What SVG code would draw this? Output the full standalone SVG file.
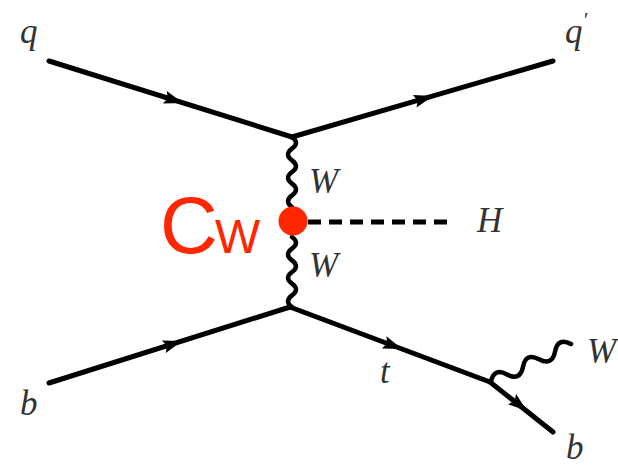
<svg xmlns="http://www.w3.org/2000/svg" xmlns:xlink="http://www.w3.org/1999/xlink" width="618" height="468" viewBox="0 0 618 468">
  <style>
    .line { stroke: #000; stroke-width: 5; fill: none; stroke-linecap: round; stroke-linejoin: round; }
    .wave { stroke: #000; stroke-width: 4.5; fill: none; stroke-linecap: round; }
    .dash { stroke: #000; stroke-width: 5; fill: none; stroke-dasharray: 13 8; }
    .lbl { font-family: "Liberation Serif", "DejaVu Serif", serif; font-style: italic; font-size: 35px; fill: #333; }
    .cw { font-family: "Liberation Sans", Arial, sans-serif; fill: #FF2600; }
  </style>
  <defs>
    <path id="arrow" d="M0,0 L-19,-6.5 L-16,0 L-19,6.5 Z" fill="#000"/>
  </defs>
  <rect width="618" height="468" fill="#fff"/>
  <g id="connectors">
    <line class="line" x1="49" y1="61" x2="292" y2="137"/>
    <line class="line" x1="292" y1="137" x2="553" y2="61"/>
    <line class="line" x1="49" y1="383" x2="290" y2="307"/>
    <line class="line" x1="290" y1="307" x2="490" y2="382"/>
    <line class="line" x1="490" y1="382" x2="553" y2="432"/>
    <path class="wave" d="M292,137 q8,5.83 0,11.67 t0,11.67 t0,11.67 t0,11.67 t0,11.67 t0,11.67"/>
    <path class="wave" d="M292,237 q8,5.83 0,11.67 t0,11.67 t0,11.67 t0,11.67 t0,11.67 t0,11.67"/>
    <path class="wave" transform="translate(491,382) rotate(-25.4)" d="M0,0 q8.86,-12 17.72,0 t17.72,0 t17.72,0 t17.72,0 t17.72,0"/>
    <line class="dash" x1="308" y1="222" x2="453" y2="222"/>
    <use xlink:href="#arrow" transform="translate(183,103) rotate(17.37)"/>
    <use xlink:href="#arrow" transform="translate(433,96) rotate(-16.23)"/>
    <use xlink:href="#arrow" transform="translate(182,341) rotate(-17.5)"/>
    <use xlink:href="#arrow" transform="translate(402,349) rotate(20.56)"/>
    <use xlink:href="#arrow" transform="translate(527,411) rotate(38.4)"/>
  </g>
  <g id="vertex-cw">
    <circle cx="293" cy="221" r="14.5" fill="#FF2600"/>
  </g>
  <g id="label-cw">
    <text class="cw" y="253"><tspan x="160" font-size="80">C</tspan><tspan x="215" font-size="48">W</tspan></text>
  </g>
  <g id="node-q"><text class="lbl" x="20" y="43">q</text></g>
  <g id="node-qprime"><text class="lbl" x="565" y="43">q<tspan font-size="22" dy="-16">′</tspan></text></g>
  <g id="node-W1"><text class="lbl" x="309" y="193">W</text></g>
  <g id="node-W2"><text class="lbl" x="309" y="277">W</text></g>
  <g id="node-H"><text class="lbl" x="477" y="232">H</text></g>
  <g id="node-b"><text class="lbl" x="20" y="415">b</text></g>
  <g id="node-t"><text class="lbl" x="380" y="383">t</text></g>
  <g id="node-W3"><text class="lbl" x="587" y="363">W</text></g>
  <g id="node-b2"><text class="lbl" x="566" y="459">b</text></g>
</svg>
